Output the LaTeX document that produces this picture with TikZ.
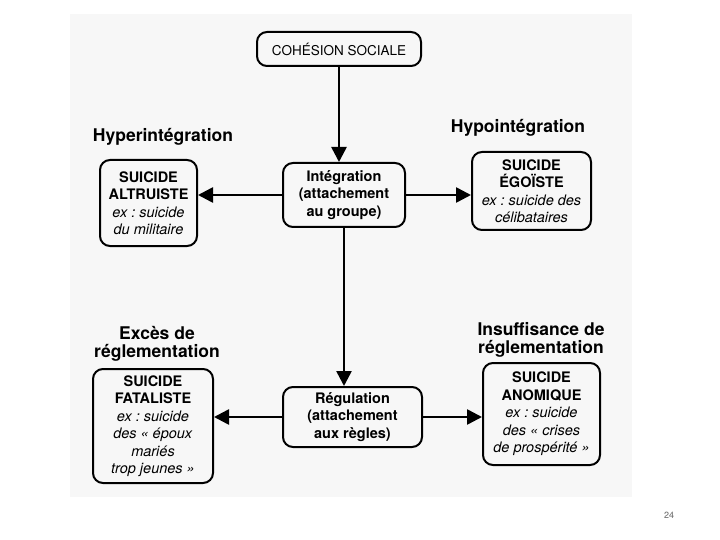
\documentclass[tikz,border=0pt]{standalone}
\usepackage{fontspec}
\setmainfont{TeX Gyre Heros}
\usetikzlibrary{arrows.meta}
\frenchspacing

\begin{document}
\begin{tikzpicture}[
    x=1pt, y=-1pt,
    every node/.style={font=\fontsize{14.5}{17.5}\selectfont},
    box/.style={
        draw, line width=2pt,
        rounded corners=10pt,
        align=center,
        inner sep=2pt,
    },
    cause/.style={box, font=\bfseries\fontsize{14.5}{17.5}\selectfont},
    heading/.style={font=\bfseries\fontsize{17.5}{18.5}\selectfont, align=center},
    link/.style={line width=2.6pt, -{Triangle[length=15pt, width=15pt]}},
]

% Column positions (pixels from the left)
\def\colL{151}
\def\colM{344}
\def\colR{538}

% Row positions (pixels from the top)
\def\rowTop{49}
\def\rowA{195}
\def\rowB{417}

% --- Page and scanned sheet ---
\useasboundingbox (0,0) rectangle (720,540);
\fill[white] (0,0) rectangle (720,540);
\fill[black!3] (70,14) rectangle (632,497);

% --- Top: social cohesion ---
\node[box, minimum width=164pt, minimum height=34pt, font=\fontsize{13.5}{16}\selectfont]
    (cohesion) at (339, \rowTop) {COHÉSION SOCIALE};

% --- Row A: integration ---
\node[cause, minimum width=122pt, minimum height=64pt] (integ) at (\colM, \rowA)
    {Intégration\\(attachement\\au groupe)};
\node[box, minimum width=97pt, minimum height=86pt] (altru) at (148.5, 203)
    {\textbf{SUICIDE}\\\textbf{ALTRUISTE}\\\textit{ex : suicide}\\\textit{du militaire}};
\node[box, minimum width=119pt, minimum height=78pt] (ego) at (531.5, 191)
    {\textbf{SUICIDE}\\\textbf{ÉGOÏSTE}\\\textit{ex : suicide des}\\\textit{célibataires}};
\node[heading] (hyper) at (163, 137) {Hyperintégration};
\node[heading] (hypo) at (518, 128) {Hypointégration};

% --- Row B: regulation ---
\node[cause, minimum width=139pt, minimum height=60pt] (regul) at (352.5, \rowB)
    {Régulation\\(attachement\\aux règles)};
\node[box, minimum width=120pt, minimum height=114pt] (fatal) at (153, 426)
    {\textbf{SUICIDE}\\\textbf{FATALISTE}\\\textit{ex : suicide}\\\textit{des « époux}\\\textit{mariés}\\\textit{trop jeunes »}};
\node[box, minimum width=117pt, minimum height=102pt] (anom) at (541.5, 414)
    {\textbf{SUICIDE}\\\textbf{ANOMIQUE}\\\textit{ex : suicide}\\\textit{des « crises}\\\textit{de prospérité »}};
\node[heading] (exces) at (157, 344) {Excès de\\réglementation};
\node[heading] (insuf) at (541, 340) {Insuffisance de\\réglementation};

% --- Connectors ---
\draw[link] (cohesion.south) -- (cohesion.south |- integ.north);
\draw[link] (integ.south) -- (integ.south |- regul.north);
\draw[link] (integ.west) -- (integ.west -| altru.east);
\draw[link] (integ.east) -- (integ.east -| ego.west);
\draw[link] (regul.west) -- (regul.west -| fatal.east);
\draw[link] (regul.east) -- (regul.east -| anom.west);

% --- Page number ---
\node[font=\fontsize{9}{10}\selectfont, text=black!60] (page) at (669, 515) {24};

\end{tikzpicture}
\end{document}
